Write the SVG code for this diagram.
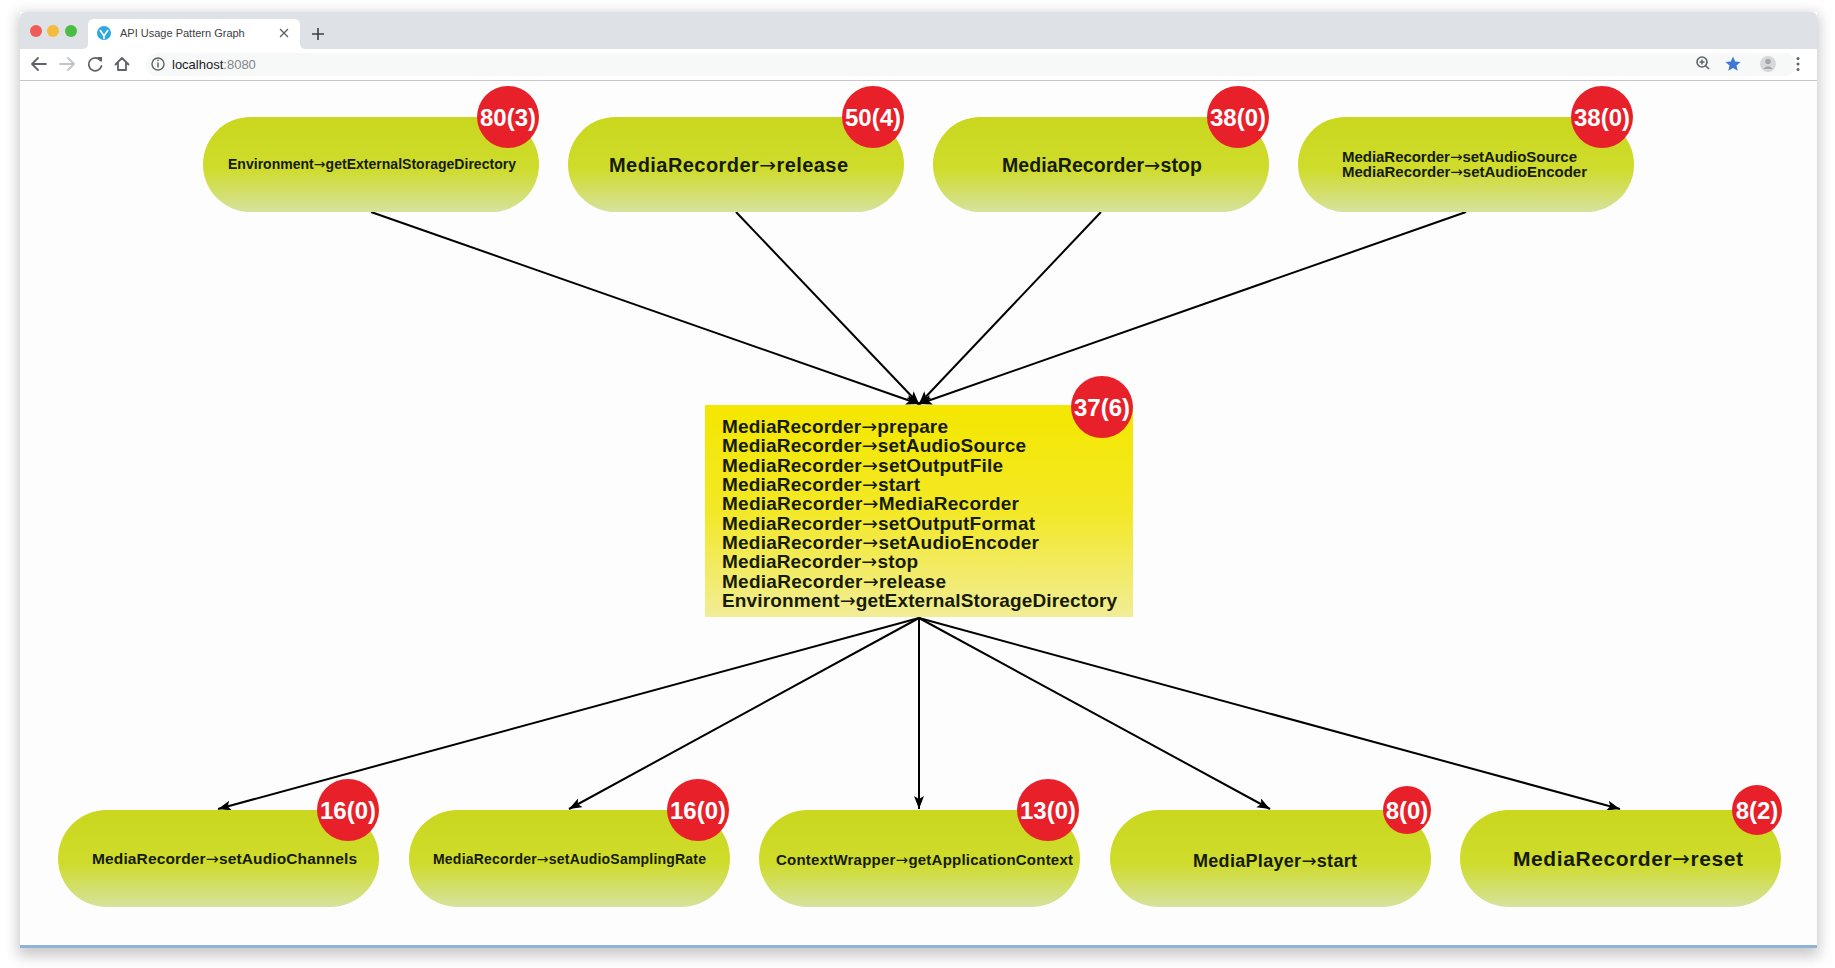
<svg xmlns="http://www.w3.org/2000/svg" width="1835" height="968" viewBox="0 0 1835 968">
<defs>
  <linearGradient id="pillGrad" x1="0" y1="0" x2="0" y2="1">
    <stop offset="0" stop-color="#c9d71e"/>
    <stop offset="0.55" stop-color="#cfdc2c"/>
    <stop offset="1" stop-color="#d6e29e"/>
  </linearGradient>
  <linearGradient id="rectGrad" x1="0" y1="0" x2="0" y2="1">
    <stop offset="0" stop-color="#f4e700"/>
    <stop offset="0.5" stop-color="#f3e826"/>
    <stop offset="1" stop-color="#f1ed96"/>
  </linearGradient>
  <filter id="winShadow" x="-5%" y="-5%" width="110%" height="115%">
    <feGaussianBlur stdDeviation="7"/>
  </filter>
  <marker id="arrow" markerUnits="userSpaceOnUse" markerWidth="14" markerHeight="12" refX="13" refY="5" orient="auto">
    <path d="M0,0 L13,5 L0,10 L3,5 Z" fill="#000"/>
  </marker>
</defs>
<style>
  .ui { font-family: "Liberation Sans", Arial, sans-serif; }
  .label { font-family: "Liberation Sans", Arial, sans-serif; font-weight: bold; fill: #161b04; }
  .ar { font-family: "DejaVu Sans", sans-serif; font-weight: normal; }
  .pill { fill: url(#pillGrad); }
  .badge circle { fill: #e8202a; }
  .badge text { font-family: "Liberation Sans", Arial, sans-serif; font-weight: bold; font-size: 24px; fill: #ffffff; text-anchor: middle; }
  .edge { stroke: #000; stroke-width: 2; fill: none; marker-end: url(#arrow); }
  .icon { stroke: #5f6368; stroke-width: 1.8; fill: none; stroke-linecap: round; stroke-linejoin: round; }
  .icon.off { stroke: #c0c3c7; }
</style>

<rect x="0" y="0" width="1835" height="968" fill="#ffffff"/>

<g id="browser">
  <rect x="18" y="14" width="1801" height="942" fill="#9a9a9a" opacity="0.55" filter="url(#winShadow)"/>
  <rect x="20" y="12" width="1797" height="935" fill="#fdfdfd"/>
  <path d="M20,49 V18 Q20,12 26,12 H1811 Q1817,12 1817,18 V49 Z" fill="#dee1e6"/>
  <circle cx="36" cy="31" r="6" fill="#ee5d55"/>
  <circle cx="53" cy="31" r="6" fill="#f5bb3c"/>
  <circle cx="71" cy="31" r="6" fill="#4bbd45"/>
  <path d="M82,49 Q88,49 88,43 V25 Q88,19 94,19 H294 Q300,19 300,25 V43 Q300,49 306,49 Z" fill="#ffffff"/>
  <circle cx="104" cy="33" r="7" fill="#2da8e0"/>
  <path d="M100,30 L104,36 L108,30 M104,36 V39" stroke="#ffffff" stroke-width="1.6" fill="none"/>
  <text x="120" y="37" class="ui" font-size="11" fill="#3c4043">API Usage Pattern Graph</text>
  <path d="M280,29 L288,37 M288,29 L280,37" stroke="#5f6368" stroke-width="1.4"/>
  <path d="M318,28 V40 M312,34 H324" stroke="#3c4043" stroke-width="1.6"/>
  <rect x="20" y="49" width="1797" height="31" fill="#ffffff"/>
  <rect x="146" y="53" width="1650" height="23" rx="11.5" fill="#f7f8f8"/>
  <line x1="20" y1="80.5" x2="1817" y2="80.5" stroke="#c5c7ca" stroke-width="1"/>
  <path class="icon" d="M46,64 H32 M38,58 L32,64 L38,70"/>
  <path class="icon off" d="M60,64 H74 M68,58 L74,64 L68,70"/>
  <path class="icon" d="M100.5,60.5 A6.5,6.5 0 1 0 101.5,66"/>
  <path d="M97,57 L102,57 L102,62 Z" fill="#5f6368"/>
  <path class="icon" d="M115.5,64.5 L122,58 L128.5,64.5 M118,62.5 V70 H126 V62.5"/>
  <circle cx="158" cy="64" r="6" stroke="#5f6368" stroke-width="1.4" fill="none"/>
  <line x1="158" y1="62.5" x2="158" y2="67.5" stroke="#5f6368" stroke-width="1.5"/>
  <circle cx="158" cy="60.3" r="0.9" fill="#5f6368"/>
  <text x="172" y="69" class="ui" font-size="13" fill="#202124">localhost<tspan fill="#80868b">:8080</tspan></text>
  <circle cx="1702" cy="62" r="5" stroke="#5f6368" stroke-width="1.6" fill="none"/>
  <path d="M1705.5,65.5 L1709,69 M1702,59.5 V64.5 M1699.5,62 H1704.5" stroke="#5f6368" stroke-width="1.5"/>
  <path d="M1733,56.5 L1735.2,61.5 L1740.5,62 L1736.5,65.5 L1737.7,70.8 L1733,68 L1728.3,70.8 L1729.5,65.5 L1725.5,62 L1730.8,61.5 Z" fill="#3f78d4"/>
  <circle cx="1768" cy="64" r="8" fill="#d7d9dc"/>
  <circle cx="1768" cy="61.5" r="2.8" fill="#a4a8ad"/>
  <path d="M1763,69 Q1768,63.5 1773,69 Z" fill="#a4a8ad"/>
  <circle cx="1798" cy="58.5" r="1.5" fill="#5f6368"/>
  <circle cx="1798" cy="64" r="1.5" fill="#5f6368"/>
  <circle cx="1798" cy="69.5" r="1.5" fill="#5f6368"/>
  <rect x="20" y="945" width="1797" height="3" fill="#8fb2d8"/>
</g>

<g id="edges">
  <line class="edge" x1="371" y1="212" x2="919" y2="404"/>
  <line class="edge" x1="736" y1="212" x2="919" y2="404"/>
  <line class="edge" x1="1101" y1="212" x2="919" y2="404"/>
  <line class="edge" x1="1466" y1="212" x2="919" y2="404"/>
  <line class="edge" x1="919" y1="618" x2="218" y2="809"/>
  <line class="edge" x1="919" y1="618" x2="569" y2="809"/>
  <line class="edge" x1="919" y1="618" x2="919" y2="809"/>
  <line class="edge" x1="919" y1="618" x2="1270" y2="809"/>
  <line class="edge" x1="919" y1="618" x2="1620" y2="809"/>
</g>

<g id="node-env-top">
  <rect class="pill" x="203" y="117" width="336" height="95" rx="47.5"/>
  <text class="label" x="228" y="169" font-size="14" textLength="288">Environment<tspan class="ar">→</tspan>getExternalStorageDirectory</text>
  <g class="badge"><circle cx="508" cy="117" r="31"/><text x="508" y="125.5">80(3)</text></g>
</g>

<g id="node-release">
  <rect class="pill" x="568" y="117" width="336" height="95" rx="47.5"/>
  <text class="label" x="609" y="172" font-size="20" textLength="239">MediaRecorder<tspan class="ar">→</tspan>release</text>
  <g class="badge"><circle cx="873" cy="117" r="31"/><text x="873" y="125.5">50(4)</text></g>
</g>

<g id="node-stop">
  <rect class="pill" x="933" y="117" width="336" height="95" rx="47.5"/>
  <text class="label" x="1002" y="172" font-size="19.5" textLength="200">MediaRecorder<tspan class="ar">→</tspan>stop</text>
  <g class="badge"><circle cx="1238" cy="117" r="31"/><text x="1238" y="125.5">38(0)</text></g>
</g>

<g id="node-audio">
  <rect class="pill" x="1298" y="117" width="336" height="95" rx="47.5"/>
  <text class="label" x="1342" y="162" font-size="15" textLength="235">MediaRecorder<tspan class="ar">→</tspan>setAudioSource</text>
  <text class="label" x="1342" y="177" font-size="15" textLength="245">MediaRecorder<tspan class="ar">→</tspan>setAudioEncoder</text>
  <g class="badge"><circle cx="1602" cy="117" r="31"/><text x="1602" y="125.5">38(0)</text></g>
</g>

<g id="node-center">
  <rect x="705" y="405" width="428" height="212" fill="url(#rectGrad)"/>
  <g class="label" font-size="19">
    <text x="722" y="433" textLength="226">MediaRecorder<tspan class="ar">→</tspan>prepare</text>
    <text x="722" y="452.3" textLength="304">MediaRecorder<tspan class="ar">→</tspan>setAudioSource</text>
    <text x="722" y="471.7" textLength="281">MediaRecorder<tspan class="ar">→</tspan>setOutputFile</text>
    <text x="722" y="491" textLength="198">MediaRecorder<tspan class="ar">→</tspan>start</text>
    <text x="722" y="510.3" textLength="297">MediaRecorder<tspan class="ar">→</tspan>MediaRecorder</text>
    <text x="722" y="529.7" textLength="313">MediaRecorder<tspan class="ar">→</tspan>setOutputFormat</text>
    <text x="722" y="549" textLength="317">MediaRecorder<tspan class="ar">→</tspan>setAudioEncoder</text>
    <text x="722" y="568.3" textLength="196">MediaRecorder<tspan class="ar">→</tspan>stop</text>
    <text x="722" y="587.7" textLength="224">MediaRecorder<tspan class="ar">→</tspan>release</text>
    <text x="722" y="607" textLength="395">Environment<tspan class="ar">→</tspan>getExternalStorageDirectory</text>
  </g>
  <g class="badge"><circle cx="1102" cy="407" r="31"/><text x="1102" y="415.5">37(6)</text></g>
</g>

<g id="node-channels">
  <rect class="pill" x="58" y="810" width="321" height="97" rx="48.5"/>
  <text class="label" x="92" y="864" font-size="15.5" textLength="265">MediaRecorder<tspan class="ar">→</tspan>setAudioChannels</text>
  <g class="badge"><circle cx="348" cy="810" r="31"/><text x="348" y="818.5">16(0)</text></g>
</g>

<g id="node-sampling">
  <rect class="pill" x="409" y="810" width="321" height="97" rx="48.5"/>
  <text class="label" x="433" y="864" font-size="14" textLength="273">MediaRecorder<tspan class="ar">→</tspan>setAudioSamplingRate</text>
  <g class="badge"><circle cx="698" cy="810" r="31"/><text x="698" y="818.5">16(0)</text></g>
</g>

<g id="node-context">
  <rect class="pill" x="759" y="810" width="321" height="97" rx="48.5"/>
  <text class="label" x="776" y="865" font-size="15" textLength="297">ContextWrapper<tspan class="ar">→</tspan>getApplicationContext</text>
  <g class="badge"><circle cx="1048" cy="810" r="31"/><text x="1048" y="818.5">13(0)</text></g>
</g>

<g id="node-player">
  <rect class="pill" x="1110" y="810" width="321" height="97" rx="48.5"/>
  <text class="label" x="1193" y="867" font-size="18" textLength="164">MediaPlayer<tspan class="ar">→</tspan>start</text>
  <g class="badge"><circle cx="1407" cy="810" r="24"/><text x="1407" y="818.5">8(0)</text></g>
</g>

<g id="node-reset">
  <rect class="pill" x="1460" y="810" width="321" height="97" rx="48.5"/>
  <text class="label" x="1513" y="866" font-size="21" textLength="230">MediaRecorder<tspan class="ar">→</tspan>reset</text>
  <g class="badge"><circle cx="1757" cy="810" r="25"/><text x="1757" y="818.5">8(2)</text></g>
</g>
</svg>
